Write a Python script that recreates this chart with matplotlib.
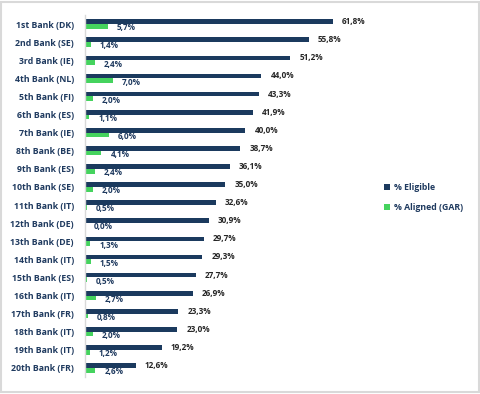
import matplotlib
matplotlib.use("Agg")
import matplotlib.pyplot as plt
from matplotlib.patches import Rectangle
import numpy as np

banks = ["1st Bank (DK)", "2nd Bank (SE)", "3rd Bank (IE)", "4th Bank (NL)", "5th Bank (FI)",
         "6th Bank (ES)", "7th Bank (IE)", "8th Bank (BE)", "9th Bank (ES)", "10th Bank (SE)",
         "11th Bank (IT)", "12th Bank (DE)", "13th Bank (DE)", "14th Bank (IT)", "15th Bank (ES)",
         "16th Bank (IT)", "17th Bank (FR)", "18th Bank (IT)", "19th Bank (IT)", "20th Bank (FR)"]
eligible = [61.8, 55.8, 51.2, 44.0, 43.3, 41.9, 40.0, 38.7, 36.1, 35.0,
            32.6, 30.9, 29.7, 29.3, 27.7, 26.9, 23.3, 23.0, 19.2, 12.6]
aligned = [5.7, 1.4, 2.4, 7.0, 2.0, 1.1, 6.0, 4.1, 2.4, 2.0,
           0.5, 0.0, 1.3, 1.5, 0.5, 2.7, 0.8, 2.0, 1.2, 2.6]

NAVY = "#1B3A5E"
GREEN = "#45D35E"
TXT = "#1F3A5F"
FONT = "Open Sans"

fig = plt.figure(figsize=(4.8, 3.94), dpi=100)
fig.patches.append(Rectangle((0.003, 0.004), 0.994, 0.992, transform=fig.transFigure,
                             fill=False, edgecolor="#D9D9D9", linewidth=1.5))
ax = fig.add_axes([85 / 480, 1 - 377 / 394, 275 / 480, 362 / 394])

y = np.arange(len(banks))
h = 0.26
ax.barh(y - h / 2, eligible, height=h, color=NAVY, label="% Eligible")
ax.barh(y + h / 2, aligned, height=h, color=GREEN, label="% Aligned (GAR)")

def fmt(v):
    return f"{v:.1f}%".replace(".", ",")

for yi, e, a in zip(y, eligible, aligned):
    ax.annotate(fmt(e), (e, yi - h / 2), xytext=(6.5, 0), textcoords="offset points",
                va="center", ha="left", fontsize=5.9, fontweight="bold", color="#262626",
                family=FONT)
    ax.annotate(fmt(a), (a, yi + h / 2 + 0.08), xytext=(6.5, 0), textcoords="offset points",
                va="center", ha="left", fontsize=5.9, fontweight="bold", color=TXT,
                family=FONT)

ax.set_xlim(0, 68.6)
ax.set_ylim(19.5, -0.5)
ax.set_yticks(y)
ax.set_yticklabels(banks, fontsize=6.3, fontweight="bold", color=TXT, family=FONT)
ax.tick_params(axis="y", length=0, pad=8)
ax.set_xticks([])
for s in ["top", "right", "bottom"]:
    ax.spines[s].set_visible(False)
ax.spines["left"].set_color("#D9D9D9")
ax.spines["left"].set_linewidth(1.0)

leg = fig.legend(loc="upper left", bbox_to_anchor=(376 / 480, 1 - 175 / 394),
                 frameon=False, handlelength=0.7, handleheight=0.7, handletextpad=0.5,
                 labelspacing=1.3, prop={"family": FONT, "weight": "bold", "size": 6.3})
for t in leg.get_texts():
    t.set_color(TXT)

fig.savefig("out.png", dpi=100)
